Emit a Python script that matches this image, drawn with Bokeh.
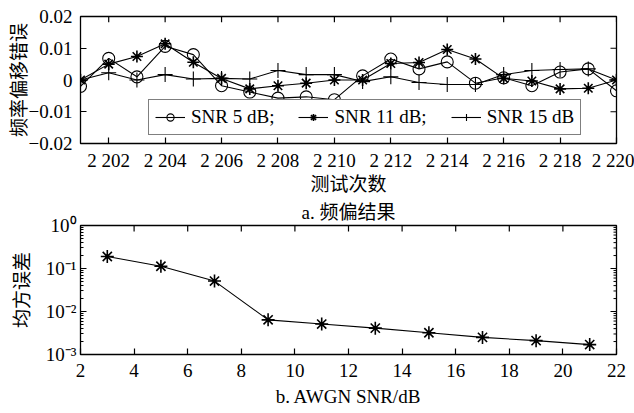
import numpy as np
from bokeh.plotting import figure
from bokeh.layouts import column
from bokeh.models import FixedTicker, Range1d, LogTicker, Title
from bokeh.embed import file_html
from bokeh.resources import INLINE

# ---------------- data ----------------
trial = list(range(2201, 2221))
snr5 = [-0.0020, 0.0068, 0.0010, 0.0106, 0.0080, -0.0018, -0.0038, -0.0057, -0.0053, -0.0062,
        0.0013, 0.0066, 0.0035, 0.0057, -0.0010, 0.0007, -0.0018, 0.0025, 0.0035, -0.0034]
snr11 = [0.0000, 0.0050, 0.0074, 0.0114, 0.0056, 0.0005, -0.0028, -0.0018, -0.0010, 0.0000,
         0.0000, 0.0052, 0.0055, 0.0096, 0.0066, 0.0005, -0.0003, -0.0028, -0.0026, 0.0000]
snr15 = [0.0000, 0.0023, 0.0000, 0.0017, 0.0003, 0.0005, 0.0003, 0.0030, 0.0017, 0.0017,
         -0.0005, 0.0010, -0.0008, -0.0014, -0.0014, 0.0017, 0.0030, 0.0033, 0.0035, 0.0000]
x_ticks = [2202, 2204, 2206, 2208, 2210, 2212, 2214, 2216, 2218, 2220]
x_tick_labels = ["2 202", "2 204", "2 206", "2 208", "2 210", "2 212", "2 214", "2 216", "2 218", "2 220"]
y_ticks = [-0.02, -0.01, 0, 0.01, 0.02]
y_tick_labels = ["\u22120.02", "\u22120.01", "0", "0.01", "0.02"]

snr_db = [3, 5, 7, 9, 11, 13, 15, 17, 19, 21]
mse = [0.19, 0.113, 0.051, 0.0064, 0.0051, 0.0041, 0.0032, 0.0025, 0.0021, 0.0017]
snr_ticks = [2, 4, 6, 8, 10, 12, 14, 16, 18, 20, 22]
log_ticks = [0.001, 0.01, 0.1, 1]
log_tick_labels = ["10\u207b\u00b3", "10\u207b\u00b2", "10\u207b\u00b9", "10\u2070"]
log_minor_ticks = [m * d for d in (0.001, 0.01, 0.1) for m in range(2, 10)]

LAT = "Liberation Serif"
MIX = "Liberation Serif, Noto Sans CJK SC"
FS = "19px"

# geometry (pixels)
W = 634
H1 = 197
H2 = 413 - H1
FW = 536
FH1 = 131
FH2 = 130
TOP2 = 224 - H1
TICK = 6


def style_axis(ax):
    ax.axis_line_color = None
    ax.major_tick_in = TICK
    ax.major_tick_out = 0
    ax.minor_tick_in = 0
    ax.minor_tick_out = 0
    ax.major_tick_line_color = "black"
    ax.major_tick_line_width = 1.2
    ax.major_label_text_font = LAT
    ax.major_label_text_font_size = FS
    ax.major_label_text_color = "black"
    ax.axis_label_text_font = MIX
    ax.axis_label_text_font_size = FS
    ax.axis_label_text_font_style = "normal"
    ax.axis_label_text_color = "black"


def base_fig(height, top, bottom, **kw):
    p = figure(width=W, height=height, output_backend="svg", toolbar_location=None,
               min_border_left=80, min_border_right=18, min_border_top=top,
               min_border_bottom=bottom, **kw)
    p.xgrid.visible = False
    p.ygrid.visible = False
    p.outline_line_color = "black"
    p.outline_line_width = 1.3
    p.background_fill_color = "white"
    p.border_fill_color = "white"
    return p


# ---------------- top figure ----------------
X0, X1 = 2201, 2220
Y0, Y1 = -0.02, 0.02
p1 = base_fig(H1, 16, H1 - 16 - FH1, x_range=Range1d(X0, X1), y_range=Range1d(Y0, Y1))

xa = p1.xaxis[0]
xa.ticker = FixedTicker(ticks=x_ticks)
xa.major_label_overrides = dict(zip(x_ticks, x_tick_labels))
style_axis(xa)
xa.major_label_standoff = 6
xa.axis_label = "测试次数"
xa.axis_label_standoff = 0

ya = p1.yaxis[0]
ya.ticker = FixedTicker(ticks=y_ticks)
ya.major_label_overrides = dict(zip(y_ticks, y_tick_labels))
style_axis(ya)
ya.major_label_standoff = 8
ya.axis_label = "频率偏移错误"
ya.axis_label_standoff = -4

# mirrored ticks (top and right edges of the box)
dy1 = TICK * (Y1 - Y0) / FH1
dx1 = TICK * (X1 - X0) / FW
p1.segment(x0=x_ticks, y0=[Y1] * len(x_ticks), x1=x_ticks, y1=[Y1 - dy1] * len(x_ticks),
           line_color="black", line_width=1.2)
p1.segment(x0=[X1] * len(y_ticks), y0=y_ticks, x1=[X1 - dx1] * len(y_ticks), y1=y_ticks,
           line_color="black", line_width=1.2)

lw = 1.1
p1.line(trial, snr5, line_color="black", line_width=lw, legend_label="SNR 5 dB;")
p1.scatter(trial, snr5, marker="circle", size=12, fill_color=None, line_color="black",
           line_width=1.1, legend_label="SNR 5 dB;")
p1.line(trial, snr11, line_color="black", line_width=lw, legend_label="SNR 11 dB;")
p1.scatter(trial, snr11, marker="asterisk", size=12, line_color="black", line_width=1.6,
           legend_label="SNR 11 dB;")
p1.scatter(trial, snr11, marker="circle", size=3, fill_color="black", line_color="black")
p1.line(trial, snr15, line_color="black", line_width=lw, legend_label="SNR 15 dB")
p1.scatter(trial, snr15, marker="cross", size=15, line_color="black", line_width=1.1,
           legend_label="SNR 15 dB")

lg = p1.legend[0]
lg.orientation = "horizontal"
lg.location = (68, 8)
lg.border_line_color = "black"
lg.border_line_width = 1.6
lg.background_fill_color = "white"
lg.background_fill_alpha = 1.0
lg.label_text_font = LAT
lg.label_text_font_size = FS
lg.label_text_color = "black"
lg.glyph_width = 30
lg.glyph_height = 18
lg.label_standoff = 6
lg.label_height = 18
lg.spacing = 24
lg.padding = 6
lg.margin = 0

# ---------------- bottom figure ----------------
S0, S1 = 2, 22
M0, M1 = 0.001, 1
p2 = base_fig(H2, TOP2, H2 - TOP2 - FH2, x_range=Range1d(S0, S1), y_range=Range1d(M0, M1),
              y_axis_type="log")
p2.title = None

xb = p2.xaxis[0]
xb.ticker = FixedTicker(ticks=snr_ticks)
style_axis(xb)
xb.major_label_standoff = 9
xb.axis_label = "b. AWGN SNR/dB"
xb.axis_label_text_font = LAT
xb.axis_label_standoff = 6

yb = p2.yaxis[0]
yb.ticker = LogTicker(num_minor_ticks=10)
yb.major_label_overrides = dict(zip(log_ticks, log_tick_labels))
style_axis(yb)
yb.minor_tick_in = 3
yb.minor_tick_line_color = "black"
yb.major_label_standoff = 4
yb.axis_label = "均方误差"
yb.axis_label_standoff = 10

dx2 = TICK * (S1 - S0) / FW
fy_major = 10 ** (TICK * np.log10(M1 / M0) / FH2)
p2.segment(x0=snr_ticks, y0=[M1] * len(snr_ticks), x1=snr_ticks,
           y1=[M1 / fy_major] * len(snr_ticks), line_color="black", line_width=1.2)
p2.segment(x0=[S1] * len(log_ticks), y0=log_ticks, x1=[S1 - dx2] * len(log_ticks), y1=log_ticks,
           line_color="black", line_width=1.2)
p2.segment(x0=[S1] * len(log_minor_ticks), y0=log_minor_ticks,
           x1=[S1 - dx2 / 2] * len(log_minor_ticks), y1=log_minor_ticks,
           line_color="black", line_width=1.0)

p2.line(snr_db, mse, line_color="black", line_width=1.1)
p2.scatter(snr_db, mse, marker="asterisk", size=13, line_color="black", line_width=1.6)
p2.scatter(snr_db, mse, marker="circle", size=3, fill_color="black", line_color="black")

p2.add_layout(Title(text="a. 频偏结果", align="center", standoff=5, text_font=MIX,
                    text_font_size=FS, text_font_style="normal", text_color="black"), "above")

layout = column(p1, p2)
open("out.html", "w").write(file_html(layout, INLINE))
